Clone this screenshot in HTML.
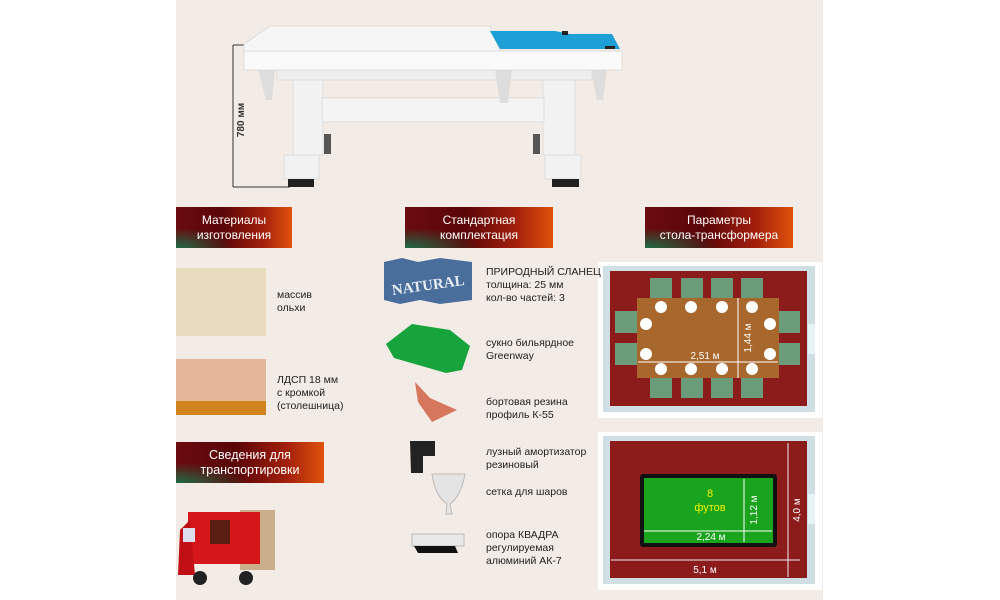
<!DOCTYPE html>
<html><head><meta charset="utf-8"><style>
*{margin:0;padding:0;box-sizing:border-box}
body{width:1000px;height:600px;background:#fff;position:relative;overflow:hidden;font-family:"Liberation Sans",sans-serif}
.panel{position:absolute;left:176px;top:0;width:647px;height:600px;background:#f2ebe6}
.hdr{position:absolute;height:41px;color:#fff;font-size:12px;line-height:15px;text-align:center;display:flex;align-items:center;justify-content:center;
background:radial-gradient(ellipse at 0% 100%,#1f6a45 0%,rgba(31,106,69,0) 35%),linear-gradient(90deg,#6a0c10 0%,#5a0508 40%,#a3200c 75%,#e0520c 100%)}
.t{position:absolute;font-size:10.5px;line-height:13px;color:#222}
</style></head><body>
<div class="panel"></div>
<svg width="1000" height="600" style="position:absolute;left:0;top:0">
<!-- dimension -->
<line x1="233" y1="45" x2="233" y2="187" stroke="#333" stroke-width="1"/>
<line x1="233" y1="45" x2="245" y2="45" stroke="#333"/>
<line x1="233" y1="187" x2="290" y2="187" stroke="#333"/>
<text transform="translate(244,120) rotate(-90)" font-size="10" font-weight="bold" fill="#333" text-anchor="middle" font-family="Liberation Sans">780 мм</text>
<!-- table -->
<polygon points="244,44 270,26 490,26 500,51 244,51" fill="#f6f6f6" stroke="#ddd"/>
<polygon points="490,31 555,31 570,34 612,34 620,49 500,49" fill="#1e9fd6"/>
<rect x="562" y="31" width="6" height="4" fill="#222"/>
<rect x="605" y="46" width="10" height="3" fill="#222"/>
<rect x="244" y="51" width="378" height="19" fill="#fafafa" stroke="#ddd"/>
<rect x="277" y="70" width="315" height="10" fill="#eee" stroke="#ddd"/>
<rect x="293" y="80" width="30" height="75" fill="#f2f2f2" stroke="#ddd"/>
<rect x="543" y="80" width="32" height="75" fill="#f2f2f2" stroke="#ddd"/>
<rect x="322" y="98" width="222" height="24" fill="#f4f4f4" stroke="#ddd"/>
<rect x="284" y="155" width="35" height="24" fill="#f2f2f2" stroke="#ddd"/>
<rect x="545" y="155" width="36" height="24" fill="#f2f2f2" stroke="#ddd"/>
<rect x="288" y="179" width="26" height="8" fill="#222"/>
<rect x="552" y="179" width="27" height="8" fill="#222"/>
<rect x="324" y="134" width="7" height="20" fill="#555"/>
<rect x="533" y="134" width="7" height="20" fill="#555"/>
<polygon points="258,70 275,70 272,100 266,100" fill="#ddd"/>
<polygon points="495,70 512,70 508,103 500,103" fill="#ddd"/>
<polygon points="591,70 607,70 603,100 597,100" fill="#ddd"/>
<!-- material swatches -->
<rect x="176" y="268" width="90" height="68" fill="#e9dbbd"/>
<rect x="176" y="359" width="90" height="56" fill="#e4b79a"/>
<rect x="176" y="401" width="90" height="14" fill="#d2841f"/>
<!-- truck -->
<rect x="240" y="510" width="35" height="60" fill="#c9b08a"/>
<rect x="188" y="512" width="72" height="52" fill="#d5161a"/>
<polygon points="180,530 190,520 195,575 178,575" fill="#c01015"/>
<rect x="183" y="528" width="12" height="14" fill="#dde"/>
<rect x="210" y="520" width="20" height="24" fill="#5a1e12"/>
<circle cx="200" cy="578" r="7" fill="#222"/><circle cx="246" cy="578" r="7" fill="#222"/>
<!-- slate -->
<polygon points="384,262 402,258 418,262 440,258 472,262 472,300 440,304 420,300 400,304 384,300" fill="#4a6e9c"/>
<text x="428" y="290" font-size="15" font-weight="bold" fill="#e6ecf3" text-anchor="middle" font-family="Liberation Serif" transform="rotate(-8 428 284)">NATURAL</text>
<!-- cloth -->
<polygon points="386,344 412,324 450,330 470,346 462,370 446,373 394,358" fill="#17a43c"/>
<!-- rubber -->
<polygon points="415,382 430,398 457,410 432,422 418,402" fill="#d6765c"/>
<!-- cushion -->
<path d="M410,441 h25 v15 h-12 v17 h-12 z" fill="#222"/>
<!-- net -->
<path d="M432,474 h33 q-4,22 -15,30 l2,10 h-6 l1,-10 q-12,-8 -15,-30z" fill="#e4e4e4" stroke="#bbb"/>
<!-- foot -->
<rect x="412" y="534" width="52" height="12" fill="#e8e8e8" stroke="#bbb"/>
<polygon points="414,546 455,546 458,553 418,553" fill="#111"/>
<!-- room 1 -->
<rect x="598" y="262" width="224" height="156" fill="#fff"/>
<rect x="603" y="266" width="212" height="146" fill="#cfdfe3"/>
<rect x="610" y="271" width="197" height="135" fill="#8c1c1c"/>
<rect x="808" y="324" width="7" height="30" fill="#e8f3f5"/>
<g fill="#6a9c79">
<rect x="650" y="278" width="22" height="24"/><rect x="681" y="278" width="22" height="24"/><rect x="711" y="278" width="22" height="24"/><rect x="741" y="278" width="22" height="24"/>
<rect x="650" y="374" width="22" height="24"/><rect x="681" y="374" width="22" height="24"/><rect x="711" y="374" width="22" height="24"/><rect x="741" y="374" width="22" height="24"/>
<rect x="615" y="311" width="24" height="22"/><rect x="615" y="343" width="24" height="22"/>
<rect x="776" y="311" width="24" height="22"/><rect x="776" y="343" width="24" height="22"/>
</g>
<rect x="637" y="298" width="142" height="80" fill="#a8672c"/>
<g fill="#fff">
<circle cx="661" cy="307" r="6"/><circle cx="691" cy="307" r="6"/><circle cx="722" cy="307" r="6"/><circle cx="752" cy="307" r="6"/>
<circle cx="661" cy="369" r="6"/><circle cx="691" cy="369" r="6"/><circle cx="722" cy="369" r="6"/><circle cx="752" cy="369" r="6"/>
<circle cx="646" cy="324" r="6"/><circle cx="646" cy="354" r="6"/><circle cx="770" cy="324" r="6"/><circle cx="770" cy="354" r="6"/>
</g>
<line x1="638" y1="362" x2="778" y2="362" stroke="#fff"/>
<line x1="738" y1="298" x2="738" y2="378" stroke="#fff"/>
<text x="705" y="359" font-size="10" fill="#fff" text-anchor="middle" font-family="Liberation Sans">2,51 м</text>
<text transform="translate(751,338) rotate(-90)" font-size="10" fill="#fff" text-anchor="middle" font-family="Liberation Sans">1,44 м</text>
<!-- room 2 -->
<rect x="598" y="432" width="224" height="158" fill="#fff"/>
<rect x="603" y="436" width="212" height="148" fill="#cfdfe3"/>
<rect x="610" y="441" width="197" height="137" fill="#8c1c1c"/>
<rect x="808" y="494" width="7" height="30" fill="#e8f3f5"/>
<rect x="640" y="474" width="137" height="73" fill="#111" rx="3"/>
<rect x="644" y="478" width="129" height="65" fill="#1aa31c"/>
<line x1="644" y1="531" x2="772" y2="531" stroke="#fff"/>
<line x1="744" y1="479" x2="744" y2="542" stroke="#fff"/>
<text x="710" y="497" font-size="11" fill="#f2f000" text-anchor="middle" font-family="Liberation Sans">8</text>
<text x="710" y="511" font-size="11" fill="#f2f000" text-anchor="middle" font-family="Liberation Sans">футов</text>
<text x="711" y="540" font-size="10" fill="#fff" text-anchor="middle" font-family="Liberation Sans">2,24 м</text>
<text transform="translate(757,510) rotate(-90)" font-size="10" fill="#fff" text-anchor="middle" font-family="Liberation Sans">1,12 м</text>
<line x1="611" y1="560" x2="800" y2="560" stroke="#eee"/>
<line x1="788" y1="443" x2="788" y2="577" stroke="#eee"/>
<text x="705" y="573" font-size="10" fill="#fff" text-anchor="middle" font-family="Liberation Sans">5,1 м</text>
<text transform="translate(800,510) rotate(-90)" font-size="10" fill="#fff" text-anchor="middle" font-family="Liberation Sans">4,0 м</text>
</svg>
<div class="hdr" style="left:176px;top:207px;width:116px">Материалы<br>изготовления</div>
<div class="hdr" style="left:405px;top:207px;width:148px">Стандартная<br>комплектация</div>
<div class="hdr" style="left:645px;top:207px;width:148px">Параметры<br>стола-трансформера</div>
<div class="hdr" style="left:176px;top:442px;width:148px;font-size:12.5px">Сведения для<br>транспортировки</div>
<div class="t" style="left:277px;top:289px">массив<br>ольхи</div>
<div class="t" style="left:277px;top:374px">ЛДСП 18 мм<br>с кромкой<br>(столешница)</div>
<div class="t" style="left:486px;top:266px">ПРИРОДНЫЙ СЛАНЕЦ<br>толщина: 25 мм<br>кол-во частей: 3</div>
<div class="t" style="left:486px;top:337px">сукно бильярдное<br>Greenway</div>
<div class="t" style="left:486px;top:396px">бортовая резина<br>профиль К-55</div>
<div class="t" style="left:486px;top:446px">лузный амортизатор<br>резиновый</div>
<div class="t" style="left:486px;top:486px">сетка для шаров</div>
<div class="t" style="left:486px;top:529px">опора КВАДРА<br>регулируемая<br>алюминий АК-7</div>
</body></html>
